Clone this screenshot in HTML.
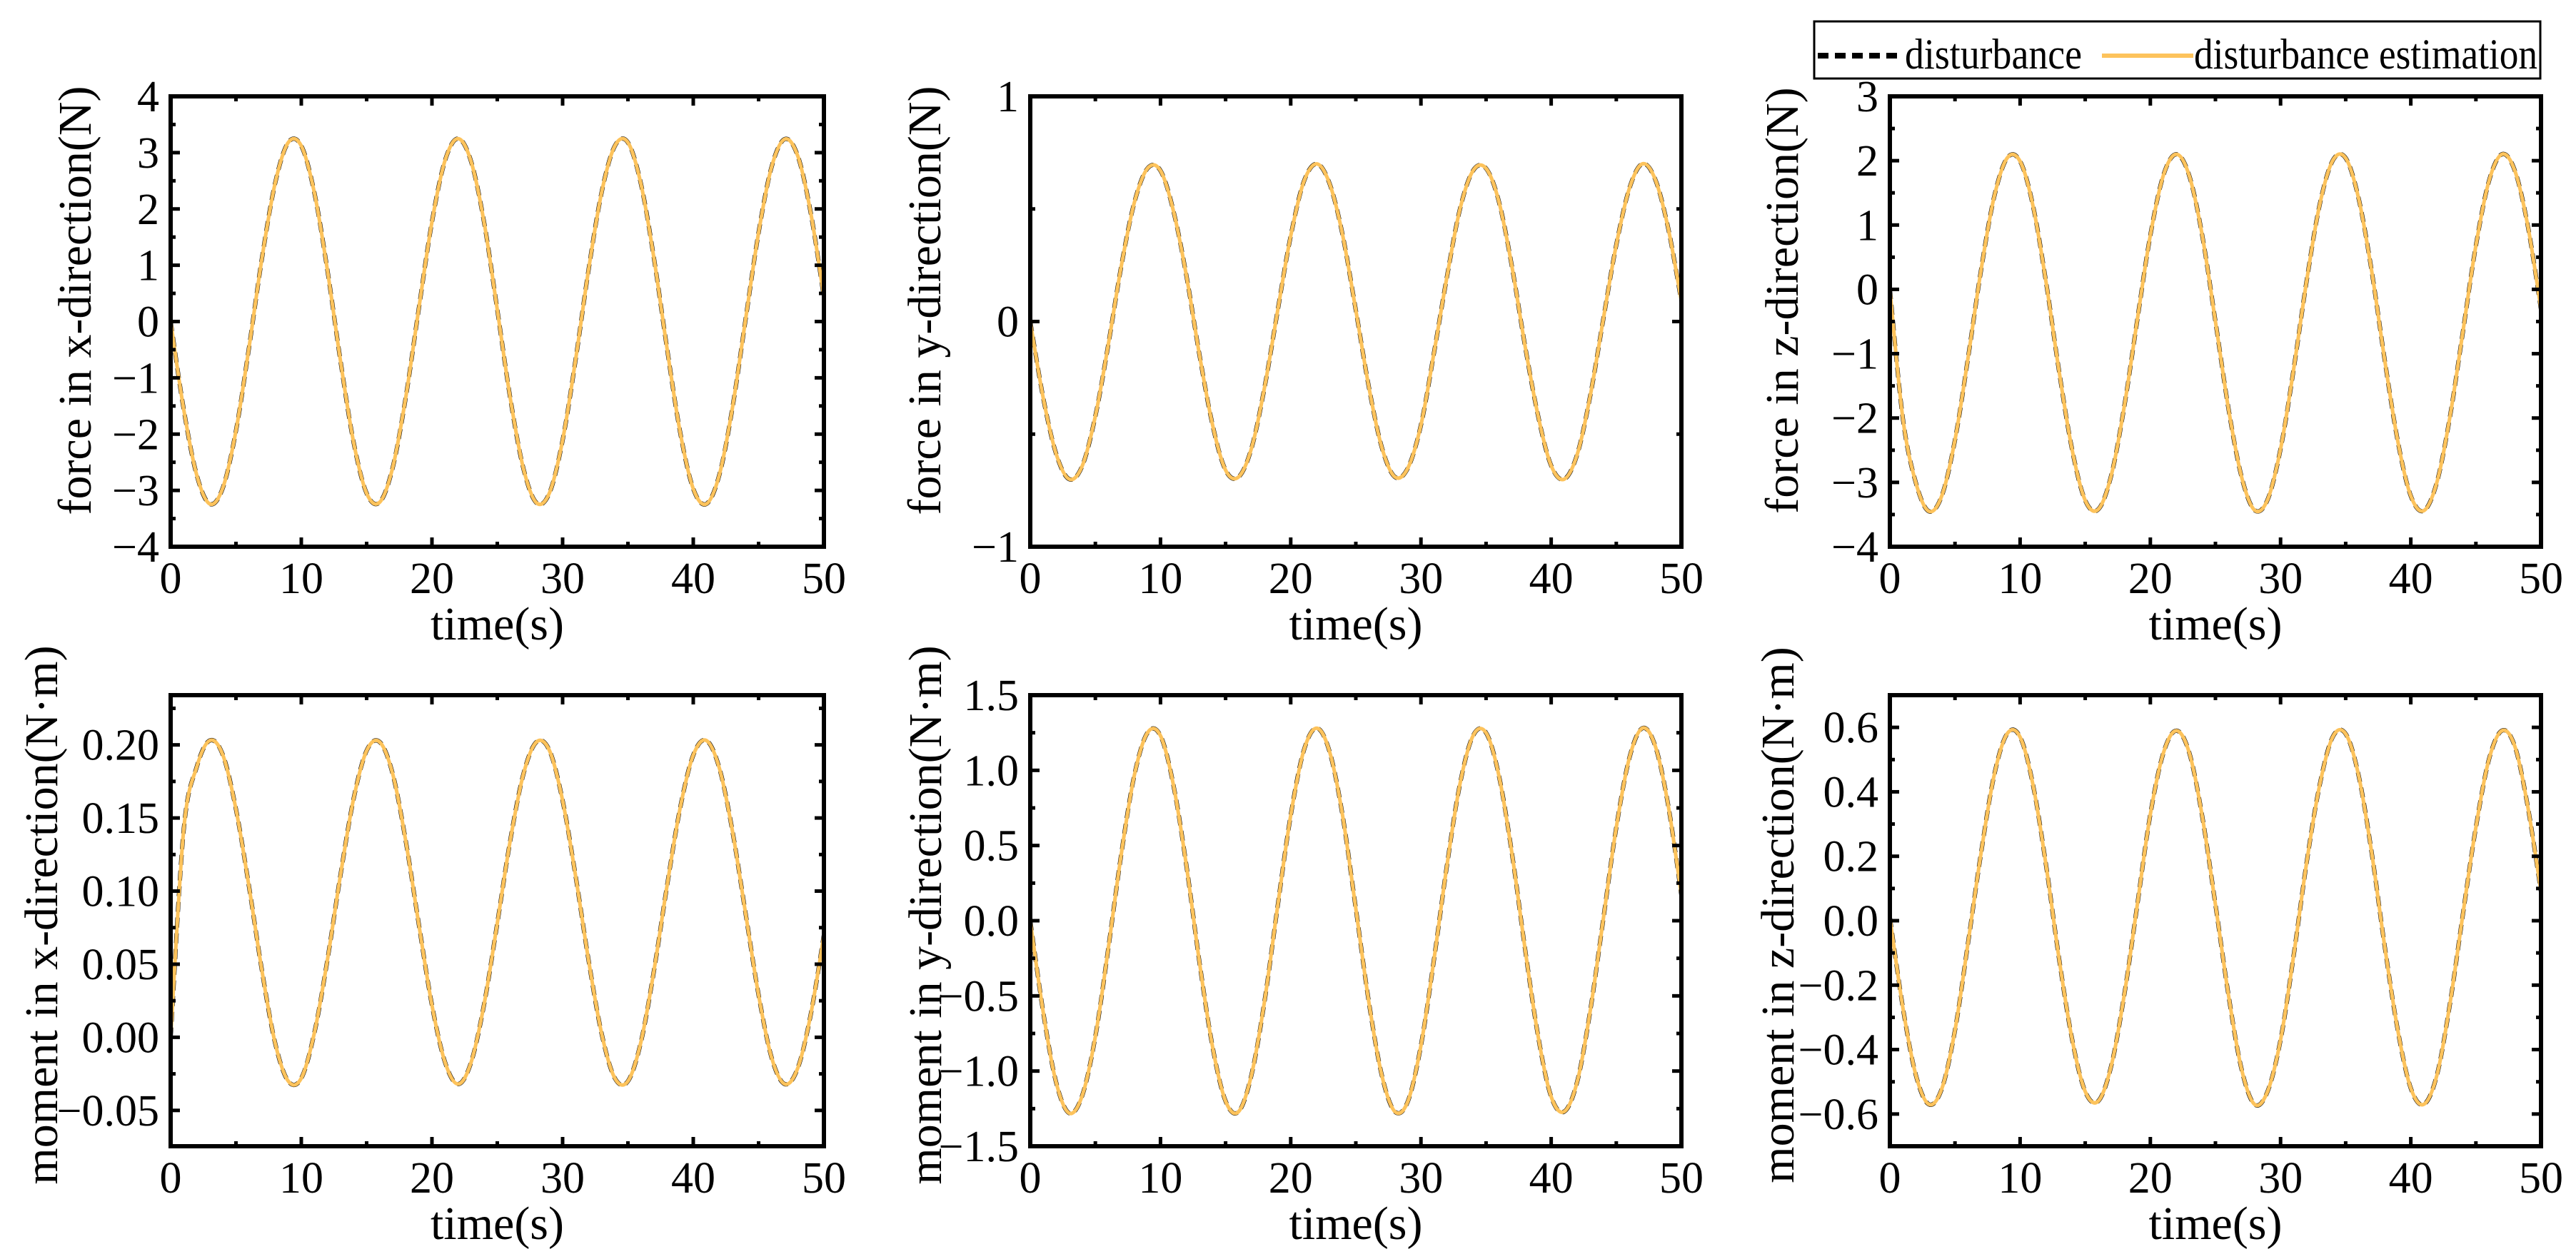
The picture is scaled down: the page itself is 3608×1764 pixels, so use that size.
<!DOCTYPE html>
<html><head><meta charset="utf-8">
<style>html,body{margin:0;padding:0;background:#fff}svg{display:block}text{font-family:"Liberation Serif","Times New Roman",serif;fill:#000}</style>
</head><body>
<svg id="fig" width="3608" height="1764" viewBox="0 0 3608 1764" xmlns="http://www.w3.org/2000/svg">
<rect x="0" y="0" width="3608" height="1764" fill="#fff"/>
<g>
<rect x="2541" y="30" width="1017" height="80" fill="#fff" stroke="#000" stroke-width="3"/>
<line x1="2546" y1="78" x2="2660" y2="78" stroke="#000" stroke-width="8" stroke-dasharray="15,9"/>
<text x="2668" y="96" font-size="60" textLength="248" lengthAdjust="spacingAndGlyphs">disturbance</text>
<line x1="2944" y1="78" x2="3072" y2="78" stroke="#FDC35C" stroke-width="6"/>
<text x="3073" y="96" font-size="60" textLength="481" lengthAdjust="spacingAndGlyphs">disturbance estimation</text>
</g>
</svg>
<script>
// time samples (s)
const timeS = [0,1,2,3,4,5,6,7,8,9,10,11,12,13,14,15,16,17,18,19,20,21,22,23,24,25,26,27,28,29,30,31,32,33,34,35,36,37,38,39,40,41,42,43,44,45,46,47,48,49,50];
const xTicks = [0,10,20,30,40,50];
// series values
const forceX = [0,-1.56,-2.73,-3.24,-2.95,-1.94,-0.46,1.14,2.46,3.18,3.12,2.29,0.91,-0.70,-2.14,-3.05,-3.21,-2.59,-1.34,0.24,1.77,2.86,3.25,2.84,1.75,0.21,-1.37,-2.61,-3.22,-3.04,-2.11,-0.67,0.94,2.31,3.12,3.18,2.44,1.11,-0.49,-1.97,-2.97,-3.24,-2.72,-1.53,0.03,1.58,2.75,3.24,2.94,1.92,0.43];
const forceY = [0,-0.34,-0.59,-0.70,-0.64,-0.42,-0.10,0.25,0.53,0.68,0.67,0.49,0.20,-0.15,-0.46,-0.66,-0.69,-0.56,-0.29,0.05,0.38,0.62,0.70,0.61,0.38,0.05,-0.29,-0.56,-0.69,-0.65,-0.46,-0.14,0.20,0.50,0.67,0.68,0.53,0.24,-0.11,-0.42,-0.64,-0.70,-0.59,-0.33,0.01,0.34,0.59,0.70,0.63,0.41,0.09];
const forceZ = [0,-2.01,-3.01,-3.45,-3.20,-2.34,-1.07,0.30,1.43,2.04,1.99,1.29,0.10,-1.28,-2.50,-3.28,-3.42,-2.89,-1.82,-0.47,0.84,1.77,2.10,1.76,0.82,-0.50,-1.85,-2.91,-3.43,-3.27,-2.48,-1.25,0.13,1.31,2.00,2.04,1.41,0.28,-1.10,-2.36,-3.21,-3.44,-3.00,-1.99,-0.66,0.68,1.68,2.10,1.84,0.97,-0.31];
const momentX = [0,0.142,0.185,0.203,0.193,0.156,0.103,0.045,-0.004,-0.030,-0.028,0.003,0.053,0.111,0.163,0.196,0.202,0.180,0.134,0.077,0.022,-0.017,-0.032,-0.017,0.023,0.078,0.135,0.180,0.202,0.196,0.162,0.110,0.052,0.002,-0.028,-0.030,-0.003,0.046,0.104,0.157,0.193,0.203,0.184,0.141,0.085,0.029,-0.014,-0.032,-0.021,0.016,0.070];
const momentY = [0,-0.61,-1.08,-1.28,-1.16,-0.77,-0.18,0.45,0.97,1.25,1.23,0.90,0.36,-0.28,-0.84,-1.20,-1.27,-1.02,-0.53,0.10,0.70,1.13,1.28,1.12,0.69,0.08,-0.54,-1.03,-1.27,-1.20,-0.83,-0.26,0.37,0.91,1.23,1.25,0.96,0.44,-0.19,-0.77,-1.17,-1.27,-1.07,-0.60,0.01,0.62,1.08,1.28,1.16,0.76,0.17];
const momentZ = [0.01,-0.27,-0.48,-0.57,-0.52,-0.34,-0.07,0.21,0.45,0.58,0.57,0.42,0.17,-0.12,-0.37,-0.53,-0.56,-0.45,-0.23,0.05,0.33,0.52,0.59,0.52,0.32,0.05,-0.23,-0.46,-0.57,-0.53,-0.37,-0.11,0.18,0.42,0.57,0.58,0.45,0.21,-0.08,-0.34,-0.52,-0.57,-0.48,-0.26,0.02,0.29,0.50,0.59,0.54,0.35,0.09];
// tick values and labels
const fxTicks = [-4,-3,-2,-1,0,1,2,3,4];
const fxLabels = ["\u22124","\u22123","\u22122","\u22121","0","1","2","3","4"];
const fyTicks = [-1,0,1];
const fyLabels = ["\u22121","0","1"];
const fzTicks = [-4,-3,-2,-1,0,1,2,3];
const fzLabels = ["\u22124","\u22123","\u22122","\u22121","0","1","2","3"];
const mxTicks = [-0.05,0,0.05,0.1,0.15,0.2];
const mxLabels = ["\u22120.05","0.00","0.05","0.10","0.15","0.20"];
const myTicks = [-1.5,-1,-0.5,0,0.5,1,1.5];
const myLabels = ["\u22121.5","\u22121.0","\u22120.5","0.0","0.5","1.0","1.5"];
const mzTicks = [-0.6,-0.4,-0.2,0,0.2,0.4,0.6];
const mzLabels = ["\u22120.6","\u22120.4","\u22120.2","0.0","0.2","0.4","0.6"];

const NS = "http://www.w3.org/2000/svg";
const svg = document.getElementById('fig');
function mk(tag, attrs, parent){const e=document.createElementNS(NS,tag);for(const k in attrs)e.setAttribute(k,attrs[k]);(parent||svg).appendChild(e);return e;}

const panels = [
 {id:'force-x', x0:239,x1:1154,y0:135,y1:766, ymin:-4,ymax:4, ticks:fxTicks, labels:fxLabels, minorStep:0.5, data:forceX, title:'force in x-direction(N)', tb:127, tc:421},
 {id:'force-y', x0:1443,x1:2355,y0:135,y1:766, ymin:-1,ymax:1, ticks:fyTicks, labels:fyLabels, minorStep:0.5, data:forceY, title:'force in y-direction(N)', tb:1317, tc:421},
 {id:'force-z', x0:2647,x1:3559,y0:135,y1:766, ymin:-4,ymax:3, ticks:fzTicks, labels:fzLabels, minorStep:0.5, data:forceZ, title:'force in z-direction(N)', tb:2518, tc:421},
 {id:'moment-x', x0:239,x1:1154,y0:974,y1:1606, ymin:-0.0745,ymax:0.234, ticks:mxTicks, labels:mxLabels, minorStep:0.025, data:momentX, title:'moment in x-direction(N\u00b7m)', tb:80, tc:1282},
 {id:'moment-y', x0:1443,x1:2355,y0:974,y1:1606, ymin:-1.5,ymax:1.5, ticks:myTicks, labels:myLabels, minorStep:0.25, data:momentY, title:'moment in y-direction(N\u00b7m)', tb:1318, tc:1282},
 {id:'moment-z', x0:2647,x1:3559,y0:974,y1:1606, ymin:-0.7,ymax:0.7, ticks:mzTicks, labels:mzLabels, minorStep:0.1, data:momentZ, title:'moment in z-direction(N\u00b7m)', tb:2512, tc:1282}
];

function pathFor(xs, ys){
  let d='M'+xs[0].toFixed(1)+','+ys[0].toFixed(1);
  for(let i=0;i<xs.length-1;i++){
    const p0x=xs[Math.max(0,i-1)],p0y=ys[Math.max(0,i-1)];
    const p1x=xs[i],p1y=ys[i],p2x=xs[i+1],p2y=ys[i+1];
    const p3x=xs[Math.min(xs.length-1,i+2)],p3y=ys[Math.min(xs.length-1,i+2)];
    const c1x=p1x+(p2x-p0x)/6,c1y=p1y+(p2y-p0y)/6,c2x=p2x-(p3x-p1x)/6,c2y=p2y-(p3y-p1y)/6;
    d+=' C'+c1x.toFixed(1)+','+c1y.toFixed(1)+' '+c2x.toFixed(1)+','+c2y.toFixed(1)+' '+p2x.toFixed(1)+','+p2y.toFixed(1);
  }
  return d;
}

panels.forEach(p=>{
  const g = mk('g',{});
  
  
  const sx = t => p.x0 + (t-0)/(50-0)*(p.x1-p.x0);
  const sy = v => p.y1 - (v-p.ymin)/(p.ymax-p.ymin)*(p.y1-p.y0);
  const cp = 'clip-'+p.id;
  const cl = mk('clipPath',{id:cp},g); mk('rect',{x:p.x0,y:p.y0,width:p.x1-p.x0,height:p.y1-p.y0},cl);
  const xs = timeS.map(sx), ys = p.data.map(sy);
  const dist = mk('path',{d:pathFor(xs,ys),fill:'none',stroke:'#000','stroke-width':6,'stroke-dasharray':'14,8','clip-path':'url(#'+cp+')'},g);
  
  
  const est = mk('path',{d:pathFor(xs,ys),fill:'none',stroke:'#FDC35C','stroke-width':5,'clip-path':'url(#'+cp+')'},g);
  
  
  const fr = mk('rect',{x:p.x0,y:p.y0,width:p.x1-p.x0,height:p.y1-p.y0,fill:'none',stroke:'#000','stroke-width':6},g);
  
  
  for(let t=0;t<=50;t+=5){
    const major = t%10===0, L = major?13:7, x=sx(t);
    mk('line',{x1:x,y1:p.y1,x2:x,y2:p.y1-L,stroke:'#000','stroke-width':5},g);
    mk('line',{x1:x,y1:p.y0,x2:x,y2:p.y0+L,stroke:'#000','stroke-width':5},g);
  }
  xTicks.forEach(t=>{
    const tl = mk('text',{x:sx(t),y:p.y1+65,'font-size':62,'text-anchor':'middle'},g);
    
    
    tl.textContent = String(t);
  });
  const start = Math.ceil(p.ymin/p.minorStep-1e-6);
  for(let k=start;k*p.minorStep<=p.ymax+1e-9;k++){
    const v=k*p.minorStep, y=sy(v);
    const major = p.ticks.some(tv=>Math.abs(tv-v)<1e-9);
    const L = major?13:7;
    mk('line',{x1:p.x0,y1:y,x2:p.x0+L,y2:y,stroke:'#000','stroke-width':5},g);
    mk('line',{x1:p.x1,y1:y,x2:p.x1-L,y2:y,stroke:'#000','stroke-width':5},g);
  }
  p.ticks.forEach((v,i)=>{
    const tl = mk('text',{x:p.x0-16,y:sy(v)+21,'font-size':62,'text-anchor':'end'},g);
    
    
    tl.textContent = p.labels[i];
  });
  const xt = mk('text',{x:(p.x0+p.x1)/2,y:p.y1+130,'font-size':66,'text-anchor':'middle'},g);
  
  
  xt.textContent = 'time(s)';
  const yt = mk('text',{x:p.tb,y:p.tc,'font-size':66,'text-anchor':'middle',transform:'rotate(-90 '+p.tb+' '+p.tc+')'},g);
  
  
  yt.textContent = p.title;
});
</script>
</body></html>
